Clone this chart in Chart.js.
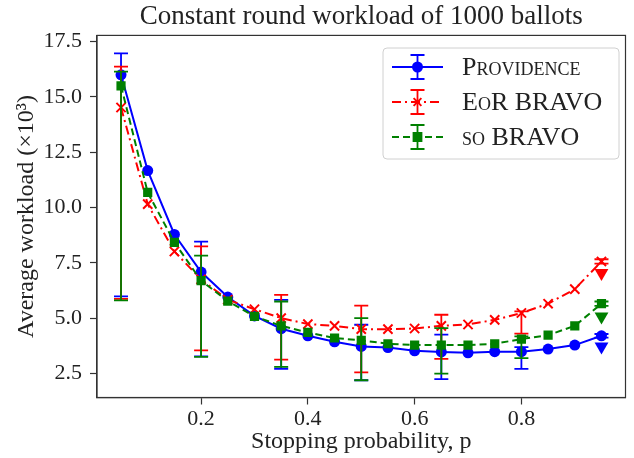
<!DOCTYPE html>
<html>
<head>
<meta charset="utf-8">
<script src="https://cdn.jsdelivr.net/npm/chart.js@4.4.1/dist/chart.umd.min.js"></script>
<style>
  html, body { margin: 0; padding: 0; background: #fff; }
</style>
</head>
<body>
<canvas id="workloadChart" width="634" height="458"></canvas>
<script>
// stopping probability p
const pValues = [0.05, 0.10, 0.15, 0.20, 0.25, 0.30, 0.35, 0.40, 0.45, 0.50,
                 0.55, 0.60, 0.65, 0.70, 0.75, 0.80, 0.85, 0.90, 0.95];

// average workload (x10^3)
const providence = [16.0, 11.67, 8.78, 7.08, 5.95, 5.1, 4.52, 4.2, 3.93, 3.72,
                    3.67, 3.52, 3.47, 3.43, 3.48, 3.48, 3.6, 3.78, 4.2];
const eorBravo   = [14.52, 10.15, 8.01, 6.75, 5.83, 5.4, 5.0, 4.73, 4.65, 4.5,
                    4.5, 4.53, 4.65, 4.71, 4.92, 5.23, 5.65, 6.31, 7.56];
const soBravo    = [15.5, 10.68, 8.42, 6.69, 5.77, 5.08, 4.65, 4.35, 4.1, 3.99,
                    3.84, 3.78, 3.78, 3.78, 3.84, 4.05, 4.23, 4.65, 5.65];

// error bars, drawn every third point
const errP = [0.05, 0.20, 0.35, 0.50, 0.65, 0.80, 0.95];
const providenceLo = [5.98, 3.27, 2.71, 2.19, 2.24, 2.70, 4.12];
const providenceHi = [16.97, 8.46, 5.82, 4.70, 4.25, 3.69, 4.28];
const eorBravoLo   = [5.87, 3.54, 3.12, 2.55, 3.16, 4.30, 7.46];
const eorBravoHi   = [16.37, 8.24, 6.05, 5.56, 5.15, 5.30, 7.66];
const soBravoLo    = [5.80, 3.25, 2.79, 2.19, 2.49, 3.19, 5.55];
const soBravoHi    = [16.14, 7.82, 5.75, 5.00, 4.55, 4.17, 5.75];

// triangle markers at the last point
const finalP = [0.95];
const providenceFinal = [3.72];
const eorBravoFinal = [7.04];
const soBravoFinal = [5.07];

const xTicks = [0.2, 0.4, 0.6, 0.8];
const yTicks = [2.5, 5.0, 7.5, 10.0, 12.5, 15.0, 17.5];
const seriesNames = ['Providence', 'EoR BRAVO', 'so BRAVO'];

const BLUE = '#0000ff', RED = '#ff0000', GREEN = '#008000';
const SERIF = "'Liberation Serif', 'DejaVu Serif', serif";

function pts(xs, ys) {
    return xs.map((x, i) => ({ x: x, y: ys[i] }));
}

const seriesStyles = [
    { color: BLUE, dash: [], pointStyle: 'circle', radius: 5.5 },
    { color: RED, dash: [9, 4, 2, 4], pointStyle: 'crossRot', radius: 6.5 },
    { color: GREEN, dash: [7, 4], pointStyle: 'rect', radius: 6.5 }
];

const errorBars = {
    id: 'errorBars',
    beforeDatasetDraw(chart, args) {
        const ds = chart.data.datasets[args.index];
        if (!ds.errLo) return;
        const ctx = chart.ctx, x = chart.scales.x, y = chart.scales.y;
        ctx.save();
        ctx.strokeStyle = ds.borderColor;
        ctx.lineWidth = 1.8;
        ctx.setLineDash([]);
        errP.forEach((p, i) => {
            const px = x.getPixelForValue(p);
            const top = y.getPixelForValue(ds.errHi[i]);
            const bot = y.getPixelForValue(ds.errLo[i]);
            ctx.beginPath();
            ctx.moveTo(px, top); ctx.lineTo(px, bot);
            ctx.moveTo(px - 7, top); ctx.lineTo(px + 7, top);
            ctx.moveTo(px - 7, bot); ctx.lineTo(px + 7, bot);
            ctx.stroke();
        });
        ctx.restore();
    }
};

const frameAndLegend = {
    id: 'frameAndLegend',
    afterDatasetsDraw(chart) {
        const ctx = chart.ctx, a = chart.chartArea;
        ctx.save();
        // axes box
        ctx.strokeStyle = '#333';
        ctx.lineWidth = 1.2;
        ctx.strokeRect(a.left, a.top, a.right - a.left, a.bottom - a.top);

        // legend box
        const bx = 383, by = 48, bw = 236, bh = 111, r = 4;
        ctx.beginPath();
        ctx.roundRect(bx, by, bw, bh, r);
        ctx.fillStyle = 'rgba(255,255,255,0.8)';
        ctx.fill();
        ctx.strokeStyle = '#d0d0d0';
        ctx.lineWidth = 1;
        ctx.stroke();

        seriesNames.forEach((name, i) => {
            const st = seriesStyles[i];
            const cy = 67 + i * 35;
            ctx.strokeStyle = st.color;
            ctx.fillStyle = st.color;
            ctx.lineWidth = 2;
            ctx.setLineDash(st.dash);
            ctx.beginPath();
            ctx.moveTo(392, cy); ctx.lineTo(443, cy);
            ctx.stroke();
            ctx.setLineDash([]);
            ctx.lineWidth = 1.8;
            ctx.beginPath();
            ctx.moveTo(417.5, cy - 12); ctx.lineTo(417.5, cy + 12);
            ctx.moveTo(410.5, cy - 12); ctx.lineTo(424.5, cy - 12);
            ctx.moveTo(410.5, cy + 12); ctx.lineTo(424.5, cy + 12);
            ctx.stroke();
            ctx.lineWidth = 2;
            Chart.helpers.drawPoint(ctx, { pointStyle: st.pointStyle, radius: st.radius - 1, rotation: 0, borderWidth: 2 }, 417.5, cy);
            ctx.fillStyle = '#222';
            ctx.font = "small-caps 26px " + SERIF;
            ctx.textBaseline = 'middle';
            ctx.textAlign = 'left';
            ctx.fillText(name, 462, cy + 1);
        });
        ctx.restore();
    }
};

Chart.defaults.font.family = SERIF;
Chart.defaults.color = '#222';

new Chart(document.getElementById('workloadChart'), {
    type: 'line',
    data: {
        datasets: [
            {
                label: seriesNames[0], data: pts(pValues, providence),
                borderColor: BLUE, backgroundColor: BLUE, borderWidth: 2,
                pointStyle: 'circle', pointRadius: 5.5, pointBorderWidth: 0,
                errLo: providenceLo, errHi: providenceHi, order: 3
            },
            {
                label: seriesNames[1], data: pts(pValues, eorBravo),
                borderColor: RED, backgroundColor: RED, borderWidth: 2, borderDash: [9, 4, 2, 4],
                pointStyle: 'crossRot', pointRadius: 6.5, pointBorderWidth: 2,
                errLo: eorBravoLo, errHi: eorBravoHi, order: 2
            },
            {
                label: seriesNames[2], data: pts(pValues, soBravo),
                borderColor: GREEN, backgroundColor: GREEN, borderWidth: 2, borderDash: [7, 4],
                pointStyle: 'rect', pointRadius: 6.5, pointBorderWidth: 0,
                errLo: soBravoLo, errHi: soBravoHi, order: 1
            },
            {
                label: 'p final', data: pts(finalP, providenceFinal), showLine: false,
                backgroundColor: BLUE, borderColor: BLUE, pointStyle: 'triangle',
                pointRotation: 180, pointRadius: 8, pointBorderWidth: 0, order: 0
            },
            {
                label: 'e final', data: pts(finalP, eorBravoFinal), showLine: false,
                backgroundColor: RED, borderColor: RED, pointStyle: 'triangle',
                pointRotation: 180, pointRadius: 8, pointBorderWidth: 0, order: 0
            },
            {
                label: 's final', data: pts(finalP, soBravoFinal), showLine: false,
                backgroundColor: GREEN, borderColor: GREEN, pointStyle: 'triangle',
                pointRotation: 180, pointRadius: 8, pointBorderWidth: 0, order: 0
            }
        ]
    },
    options: {
        responsive: false,
        animation: false,
        devicePixelRatio: 1,
        layout: { padding: { left: 0, right: 2, top: 0, bottom: 0 } },
        plugins: {
            legend: { display: false },
            tooltip: { enabled: false },
            title: {
                display: true,
                text: 'Constant round workload of 1000 ballots',
                fullSize: false,
                color: '#222',
                font: { size: 27, weight: 'normal' },
                padding: { top: 1, bottom: 2 }
            }
        },
        scales: {
            x: {
                type: 'linear',
                min: 0.005, max: 0.995,
                afterBuildTicks: (s) => { s.ticks = xTicks.map(v => ({ value: v })); },
                afterFit: (s) => { s.height = 60.5; },
                ticks: { font: { size: 22 }, padding: 2, maxRotation: 0, callback: (v) => v.toFixed(1) },
                grid: { drawOnChartArea: false, tickLength: 7, tickColor: '#333', tickWidth: 1.2 },
                border: { color: '#333', width: 1.2 },
                title: { display: true, text: 'Stopping probability, p', font: { size: 24 }, padding: { top: 0, bottom: 1.6 } }
            },
            y: {
                min: 1.41, max: 17.78,
                afterBuildTicks: (s) => { s.ticks = yTicks.map(v => ({ value: v })); },
                afterFit: (s) => { s.width = 97; },
                ticks: { font: { size: 22 }, padding: 8, callback: (v) => v.toFixed(1) },
                grid: { drawOnChartArea: false, tickLength: 7, tickColor: '#333', tickWidth: 1.2 },
                border: { color: '#333', width: 1.2 },
                title: { display: true, text: 'Average workload (×10³)', font: { size: 24 }, padding: { top: 12.6, bottom: 0 } }
            }
        }
    },
    plugins: [errorBars, frameAndLegend]
});
</script>
</body>
</html>
